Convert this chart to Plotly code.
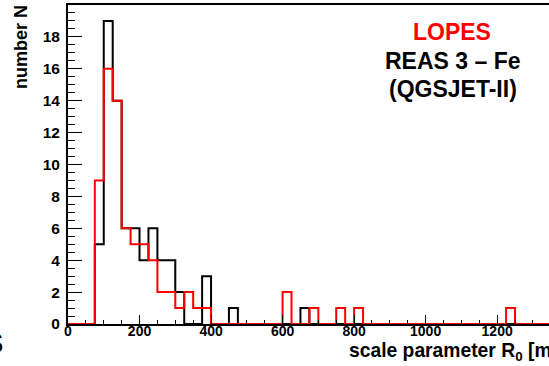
import numpy as np
import plotly.graph_objects as go

# ---- data ----
bin_width = 25
n_bins = 56
black_bin_starts = [75, 100, 125, 150, 175, 200, 225, 250, 275, 300, 375, 450, 650]
black_counts = [5, 19, 14, 6, 6, 4, 6, 4, 4, 2, 3, 1, 1]
red_bin_starts = [75, 100, 125, 150, 175, 200, 225, 250, 275, 300, 325, 350, 375,
                  600, 675, 750, 800, 1225]
red_counts = [9, 16, 14, 6, 5, 5, 4, 2, 2, 1, 2, 1, 1, 2, 1, 1, 1, 1]
x_tick_vals = [0, 200, 400, 600, 800, 1000, 1200]
y_tick_vals = [0, 2, 4, 6, 8, 10, 12, 14, 16, 18]

edges = np.arange(n_bins + 1) * bin_width


def full_counts(starts, counts):
    arr = np.zeros(n_bins)
    for s, c in zip(starts, counts):
        arr[int(s // bin_width)] = c
    return np.append(arr, arr[-1])


W, H = 549, 366
L, R, T, B = 68, 0, 5, 42
PW, PH = W - L - R, H - T - B


def px(x):
    return (x - L) / PW


def py(y):
    return (H - B - y) / PH


FONT = "Liberation Sans"

fig = go.Figure()
fig.add_trace(go.Scatter(x=edges, y=full_counts(black_bin_starts, black_counts),
                         mode="lines", line=dict(shape="hv", color="black", width=2),
                         showlegend=False, hoverinfo="skip"))
fig.add_trace(go.Scatter(x=edges, y=full_counts(red_bin_starts, red_counts),
                         mode="lines", line=dict(shape="hv", color="#ff0000", width=2),
                         showlegend=False, hoverinfo="skip"))

fig.update_layout(
    width=W, height=H,
    margin=dict(l=L, r=R, t=T, b=B, pad=0),
    paper_bgcolor="white", plot_bgcolor="white",
    font=dict(family=FONT, color="black", size=14, weight="bold"),
    xaxis=dict(range=[0, 1345], showgrid=False, zeroline=False,
               showline=True, linecolor="black", linewidth=2, mirror=True,
               ticks="inside", ticklen=9, tickwidth=1, tickcolor="black",
               tickvals=x_tick_vals, ticktext=[str(v) for v in x_tick_vals],
               tickfont=dict(family=FONT, size=14, weight="bold"),
               minor=dict(ticks="inside", ticklen=4, dtick=50, tickcolor="black", tickwidth=1),
               ticklabelstandoff=-7),
    yaxis=dict(range=[0, 20], showgrid=False, zeroline=False,
               showline=True, linecolor="black", linewidth=2,
               ticks="inside", ticklen=14, tickwidth=1, tickcolor="black",
               tickvals=y_tick_vals, ticktext=[str(v) for v in y_tick_vals],
               tickfont=dict(family=FONT, size=15.5, weight="bold"),
               minor=dict(ticks="inside", ticklen=7, dtick=0.5, tickcolor="black", tickwidth=1),
               ticklabelstandoff=3),
)

ann = [
    dict(text="number N", x=px(21), y=py(47), textangle=-90, font=dict(size=18)),
    dict(text="scale parameter R<sub>0</sub> [m]", x=px(347), y=py(352), xanchor="left",
         font=dict(size=19.3)),
    dict(text="LOPES", x=px(452), y=py(32), font=dict(size=23, color="#ff0000")),
    dict(text="REAS 3 – Fe", x=px(453), y=py(61), font=dict(size=23)),
    dict(text="(QGSJET-II)", x=px(453), y=py(89), font=dict(size=23)),
    dict(text="S", x=px(5), y=py(343), xanchor="right", font=dict(size=29)),
]
for a in ann:
    base = dict(xref="paper", yref="paper", showarrow=False)
    if "xanchor" not in a:
        base["xanchor"] = "center"
    base["yanchor"] = "middle"
    f = dict(family=FONT, color="black", weight="bold")
    f.update(a.pop("font"))
    base.update(a)
    base["font"] = f
    fig.add_annotation(**base)

fig.write_html("out.html")
